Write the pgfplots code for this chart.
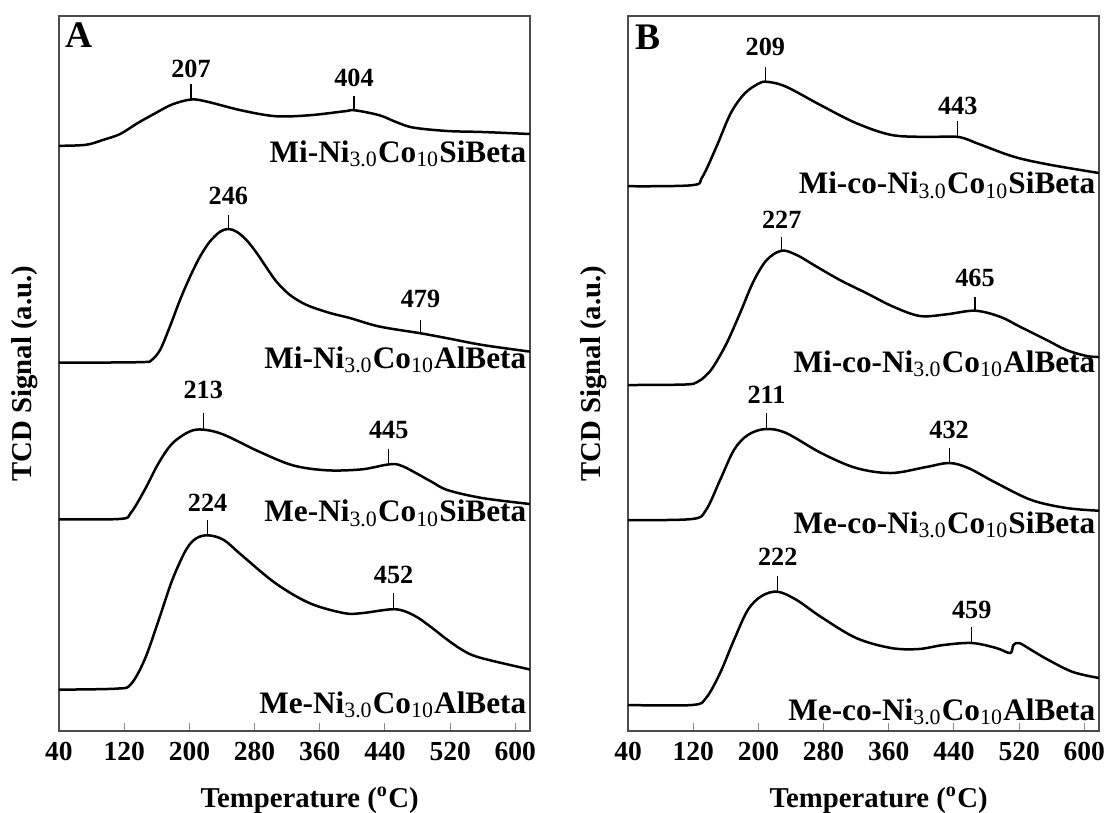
\documentclass[border=0pt]{standalone}
\usepackage{fontspec}
\setmainfont{Liberation Serif}
\usepackage{pgfplots}
\pgfplotsset{compat=1.18}
\newcommand{\sub}[1]{\textsubscript{\normalfont #1}}
\newcommand{\pk}[5]{%
  \draw[black, line width=0.45pt] (axis cs:#1,#2) -- (axis cs:#1,#3);
  \node[inner sep=0pt, anchor=center, font=\bfseries\fontsize{10.5}{12}\selectfont] at (axis cs:#1,#4) {#5};}
\newcommand{\cl}[2]{%
  \node[inner sep=0pt, anchor=base east, font=\bfseries\fontsize{12.5}{14}\selectfont] at (axis cs:614,#1) {#2};}
\pgfplotsset{
  tpr/.style={
    width=188.4pt, height=286pt, scale only axis,
    xmin=40, xmax=618, ymin=16, ymax=731, y dir=reverse,
    xtick={40,120,...,600}, ytick=\empty,
    xtick pos=bottom, tick align=inside, major tick length=3.2pt,
    every tick/.style={black!45, line width=0.4pt},
    axis line style={draw=black!70, line width=0.9pt},
    tick label style={font=\bfseries\fontsize{11}{13}\selectfont},
    xticklabel style={yshift=-1pt},
    /pgf/number format/assume math mode=true,
    xlabel={Temperature (\textsuperscript{o}C)},
    ylabel={TCD Signal (a.u.)},
    every axis x label/.style={at={(axis description cs:0.532,-0.0965)}, anchor=center, font=\bfseries\fontsize{11.5}{13}\selectfont},
    every axis y label/.style={at={(axis description cs:-0.072,0.5)}, anchor=center, rotate=90, font=\bfseries\fontsize{11.5}{13}\selectfont},
    clip=false,
  },
  curve/.style={black, line width=1pt, smooth, tension=0.55, no marks},
}
\begin{document}
\begin{tikzpicture}
\useasboundingbox (0,0) rectangle (443.2pt,324.8pt);
% ---------------- Panel A ----------------
\begin{axis}[tpr, at={(23.6pt,32.4pt)}, anchor=south west]
\addplot[curve] coordinates {(40,145.8)(73,144.8)(94,139.9)(115,134)(136.5,123.1)(158,113.3)(179,104.4)(202,99.5)(221,101.5)(263.5,110.3)(306,116.2)(348,115.2)(390,111.3)(403,110.3)(433,115.2)(454,122.1)(475,127.6)(517,131)(560,132)(618,134)};
\addplot[curve] coordinates {(40,362.5)(100,362.5)(145,362)(153,360.5)(164,350)(176,326.7)(188.5,300)(200.8,276.7)(213,256.7)(225,241.7)(237.6,231.7)(247.8,229)(258,231.7)(270,240)(282.6,253)(295,268)(307,281.7)(323.5,295)(344,305)(372.6,313)(397,318)(433,326.5)(484,333.3)(517,338.3)(560,345)(618,351.6)};
\addplot[curve] coordinates {(40,519.3)(115,518.9)(128,513)(145,490.1)(162,463.4)(179,443.5)(200,431.6)(217,429.6)(242,434.6)(285,451.4)(327,465.3)(369,470.3)(412,469.3)(445.5,464.3)(462,466.3)(496,481.2)(517,490.1)(560,498.1)(618,504)};
\addplot[curve] coordinates {(40,689.6)(111,688.6)(128,684.4)(145,659.8)(162,620.9)(179,580)(196,549.7)(208.5,538.3)(223,535.3)(242,539.8)(263.5,554.7)(306,583.4)(348,603.3)(390,613.1)(412,613.1)(452,609.2)(475,615.1)(496,626.7)(517,640)(539,651.9)(560,658.4)(618,669.5)};
\pk{202}{83.7}{99.5}{68.5}{207}
\pk{402}{95.5}{110.3}{77.8}{404}
\pk{247.8}{215}{229}{196}{246}
\pk{483.6}{320}{333.3}{299}{479}
\pk{217}{413.3}{429.6}{389.9}{213}
\pk{444.7}{448.5}{464.3}{429.6}{445}
\pk{222.4}{519.9}{535.3}{503}{224}
\pk{450.6}{593.4}{609.2}{575}{452}
\cl{162}{Mi-Ni\sub{3.0}Co\sub{10}SiBeta}
\cl{368}{Mi-Ni\sub{3.0}Co\sub{10}AlBeta}
\cl{521.7}{Me-Ni\sub{3.0}Co\sub{10}SiBeta}
\cl{713.4}{Me-Ni\sub{3.0}Co\sub{10}AlBeta}
\node[inner sep=0pt, anchor=center, font=\bfseries\fontsize{15}{17}\selectfont] at (axis cs:64.6,35) {A};
\end{axis}
% ---------------- Panel B ----------------
\begin{axis}[tpr, at={(251.2pt,32.4pt)}, anchor=south west]
\addplot[curve] coordinates {(40,186.2)(118.5,185.2)(131,177.3)(148.5,146.8)(166,113.3)(183,93.6)(200,83.7)(211,81.8)(234,86.7)(277,105.4)(320,123.1)(363,134.9)(406,136.9)(445,136.9)(470,143.8)(513,156.6)(556,164.5)(618,173)};
\addplot[curve] coordinates {(40,385)(110,384.5)(125,382)(135,376)(144.7,366.7)(161,343.3)(177.4,313.3)(193.8,281.7)(210.2,260)(228.6,250.7)(247,255)(271.6,266.7)(300,280)(333,293.3)(365.6,306.7)(398.3,316)(431,314.3)(465.8,310.7)(496.5,316.7)(521,326.7)(553.8,340)(578,350)(603,356)(618,357)};
\addplot[curve] coordinates {(40,520)(118.5,519)(135.7,510)(153,480)(170,450)(187,435)(208.6,429)(234,433)(277,453)(320,468)(363,473)(406,467)(434,463)(457.5,468)(492,483)(535,500)(578,508)(618,510.7)};
\addplot[curve] coordinates {(40,705)(118.5,705)(135.7,698)(153,673)(170,640)(187,610)(204,596)(223.7,591.7)(247,600)(277,617)(320,638)(363,648)(397,649)(427,645)(462,643)(492,648)(509,653)(513,645)(520,643)(535,650)(556,660)(586,672)(618,678)};
\pk{208.6}{67}{81.8}{46.8}{209}
\pk{444.6}{121.2}{136.9}{106.4}{443}
\pk{228.6}{236.7}{250.7}{220}{227}
\pk{465.8}{296.7}{310.7}{278}{465}
\pk{210}{413}{429}{395}{211}
\pk{434}{448}{463}{430}{432}
\pk{223.7}{576}{592}{557}{222}
\pk{461.8}{627}{643}{610}{459}
\cl{193.6}{Mi-co-Ni\sub{3.0}Co\sub{10}SiBeta}
\cl{372}{Mi-co-Ni\sub{3.0}Co\sub{10}AlBeta}
\cl{533}{Me-co-Ni\sub{3.0}Co\sub{10}SiBeta}
\cl{720}{Me-co-Ni\sub{3.0}Co\sub{10}AlBeta}
\node[inner sep=0pt, anchor=center, font=\bfseries\fontsize{15}{17}\selectfont] at (axis cs:64.6,37) {B};
\end{axis}
\end{tikzpicture}
\end{document}
